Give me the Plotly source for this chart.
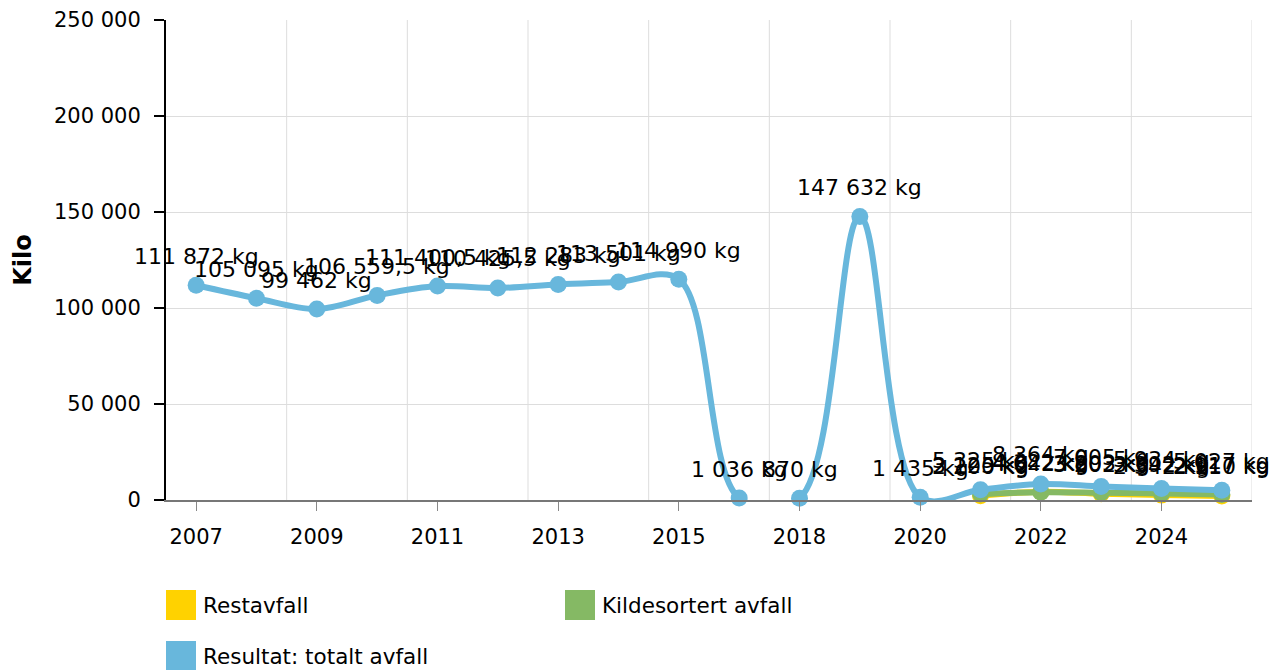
import plotly.graph_objects as go

# Data
years = ["2007", "2008", "2009", "2010", "2011", "2012", "2013", "2014", "2015",
         "2016", "2018", "2019", "2020", "2021", "2022", "2023", "2024", "2025"]
total = [111872, 105095, 99462, 106559.5, 111400.5, 110425.5, 112283, 113501, 114990,
         1036, 870, 147632, 1435, 5325, 8364, 7005, 5934, 5027]
restavfall = [None] * 13 + [2200, 4322, 3202, 2542, 2110]
kildesortert = [None] * 13 + [3125, 4042, 3803, 3392, 2917]

YELLOW = "#ffd200"
GREEN = "#85b964"
BLUE = "#68b7dc"
FONT = "DejaVu Sans"

# page is offset by the body margin, so work in page pixels and subtract it
OFF = 8
W, H = 1282, 670
L, T = 166 - OFF, 20 - OFF
PW, PH = 1086, 480
R = W - L - PW
B = H - T - PH


def fmt(v):
    if float(v).is_integer():
        s = f"{int(v):,}"
    else:
        s = f"{v:,.1f}"
    return s.replace(",", " ").replace(".", ",") + " kg"


def px(x):
    return (x - OFF - L) / PW


def py(y):
    return (T + PH - (y - OFF)) / PH


fig = go.Figure()

series = [("Restavfall", restavfall, YELLOW),
          ("Kildesortert avfall", kildesortert, GREEN),
          ("Resultat: totalt avfall", total, BLUE)]

for name, vals, color in series:
    fig.add_trace(go.Scatter(
        x=years, y=vals, name=name, mode="lines+markers",
        line=dict(color=color, width=6, shape="spline", smoothing=1),
        marker=dict(color=color, size=17),
        connectgaps=False, showlegend=False, cliponaxis=False,
    ))

# data labels above every point (x as category index)
for name, vals, color in series:
    for i, v in enumerate(vals):
        if v is None:
            continue
        fig.add_annotation(x=i, y=v, text=fmt(v), showarrow=False,
                           yshift=29, font=dict(family=FONT, size=22, color="#000000"))

# vertical grid lines between every second category
for i in range(1, len(years), 2):
    fig.add_shape(type="line", xref="x", yref="y domain", x0=i + 0.5, x1=i + 0.5,
                  y0=0, y1=1, line=dict(color="#dddddd", width=1), layer="below")

# legend drawn as squares + text below the plot
legend_items = [("Restavfall", YELLOW, 166, 590),
                ("Kildesortert avfall", GREEN, 565, 590),
                ("Resultat: totalt avfall", BLUE, 166, 641)]
for name, color, lx, ly in legend_items:
    fig.add_shape(type="rect", xref="paper", yref="paper",
                  x0=px(lx), x1=px(lx + 30), y0=py(ly), y1=py(ly + 30),
                  fillcolor=color, line=dict(width=0))
    fig.add_annotation(xref="paper", yref="paper", x=px(lx + 35), y=py(ly + 15),
                       text=name, showarrow=False, xanchor="left", yanchor="middle",
                       font=dict(family=FONT, size=21.5, color="#000000"))

fig.update_layout(
    width=W, height=H,
    margin=dict(l=L, r=R, t=T, b=B, autoexpand=False),
    plot_bgcolor="white", paper_bgcolor="white",
    separators=", ",
    font=dict(family=FONT, size=21, color="#000000"),
    showlegend=False,
)

fig.update_xaxes(
    type="category", categoryorder="array", categoryarray=years,
    range=[-0.5, len(years) - 0.5], automargin=False,
    tickvals=years[::2], ticks="outside", ticklen=9, tickcolor="#888888", tickwidth=1,
    ticklabelstandoff=8,
    showgrid=False, showline=True, linecolor="#777777", linewidth=2,
    tickfont=dict(family=FONT, size=21), zeroline=False,
)
fig.update_yaxes(
    range=[0, 250000], tickvals=[0, 50000, 100000, 150000, 200000, 250000],
    automargin=False,
    tickformat=",", ticks="outside", ticklen=10, tickcolor="#000000", tickwidth=2,
    ticklabelstandoff=9,
    showline=True, linecolor="#000000", linewidth=2,
    showgrid=True, gridcolor="#dddddd", gridwidth=1, zeroline=False,
    tickfont=dict(family=FONT, size=21),
    title=dict(text="<b>Kilo</b>", font=dict(family=FONT, size=24), standoff=16),
)

fig.write_html("out.html")
